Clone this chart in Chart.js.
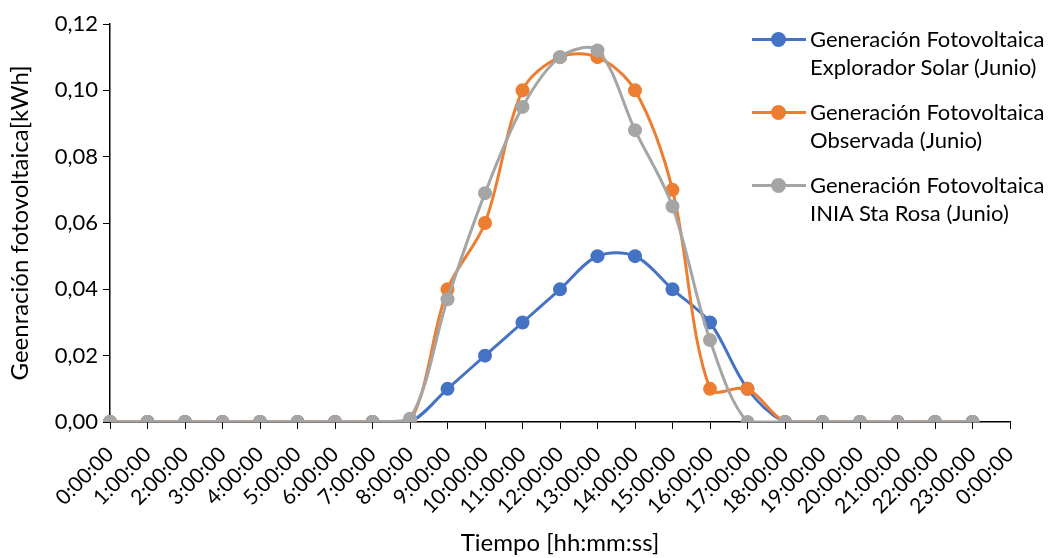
<!DOCTYPE html>
<html>
<head>
<meta charset="utf-8">
<script src="https://cdn.jsdelivr.net/npm/chart.js@4"></script>
<style>
  body { margin: 0; background: #fff; }
  #caja { position: relative; width: 1051px; height: 558px; }
  #leyenda { position: absolute; left: 752px; top: 25px; font-family: Lato, sans-serif; font-size: 22px; color: #000; line-height: 28px; }
  .item { display: flex; align-items: flex-start; margin-bottom: 17px; }
  .marca { position: relative; width: 54px; height: 28px; flex: none; margin-right: 4px; }
  .marca .linea { position: absolute; left: 0; right: 0; top: 13px; height: 3px; }
  .marca .punto { position: absolute; left: 19px; top: 7px; width: 15px; height: 15px; border-radius: 50%; }
</style>
</head>
<body>
<div id="caja">
  <canvas id="myChart" width="1051" height="558"></canvas>
  <div id="leyenda"></div>
</div>
<script>
// ---- DATOS ----
let horas = ['0:00:00','1:00:00','2:00:00','3:00:00','4:00:00','5:00:00','6:00:00','7:00:00','8:00:00','9:00:00','10:00:00','11:00:00','12:00:00','13:00:00','14:00:00','15:00:00','16:00:00','17:00:00','18:00:00','19:00:00','20:00:00','21:00:00','22:00:00','23:00:00','0:00:00']
let explorador = [0,0,0,0,0,0,0,0,0,0.01,0.02,0.03,0.04,0.05,0.05,0.04,0.03,0.01,0,0,0,0,0,0]
let observada = [0,0,0,0,0,0,0,0,0,0.04,0.06,0.10,0.11,0.11,0.10,0.07,0.01,0.01,0,0,0,0,0,0]
let iniaStaRosa = [0,0,0,0,0,0,0,0,0.001,0.037,0.069,0.095,0.110,0.112,0.088,0.065,0.0247,0,0,0,0,0,0,0]
let ticksY = [0,0.02,0.04,0.06,0.08,0.10,0.12]

let nombres = ['Generación Fotovoltaica\nExplorador Solar (Junio)', 'Generación Fotovoltaica\nObservada (Junio)', 'Generación Fotovoltaica\nINIA Sta Rosa (Junio)']
let colores = ['#4472C4', '#ED7D31', '#A5A5A5']

let fuente = 'Lato, sans-serif'

// ---- LEYENDA HTML ----
let leyenda = document.querySelector('#leyenda')
let html = ''
nombres.forEach((nombre, i) => {
    html += `
    <div class="item">
      <div class="marca"><div class="linea" style="background:${colores[i]}"></div><div class="punto" style="background:${colores[i]}"></div></div>
      <div>${nombre.replace('\n', '<br>')}</div>
    </div>`
})
leyenda.innerHTML = html

// ---- GRAFICO ----
function serie(nombre, data, color, orden) {
    return {
        label: nombre,
        data: data,
        borderColor: color,
        backgroundColor: color,
        borderWidth: 3,
        pointRadius: 7,
        pointHoverRadius: 7,
        pointBorderWidth: 0,
        tension: 0.33,
        order: orden
    }
}

let config = {
    type: 'line',
    data: {
        labels: horas,
        datasets: [
            serie(nombres[0], explorador, colores[0], 2),
            serie(nombres[1], observada, colores[1], 1),
            serie(nombres[2], iniaStaRosa, colores[2], 0)
        ]
    },
    options: {
        responsive: false,
        animation: false,
        layout: { padding: { top: 24, right: 41, left: 0, bottom: 0 } },
        plugins: { legend: { display: false }, tooltip: { enabled: false } },
        scales: {
            x: {
                offset: false,
                grid: { drawOnChartArea: false, color: '#000', tickLength: 7, tickColor: '#000' },
                border: { color: '#000', width: 1.5 },
                ticks: { color: '#000', font: { family: fuente, size: 21 }, minRotation: 45, maxRotation: 45, autoSkip: false, padding: 13 },
                title: { display: true, text: 'Tiempo [hh:mm:ss]', color: '#000', font: { family: fuente, size: 24 }, padding: { top: 0, bottom: 0 } },
                afterFit: (scale) => { scale.height = 136 }
            },
            y: {
                min: 0,
                max: 0.12,
                afterBuildTicks: (scale) => { scale.ticks = ticksY.map(v => ({ value: v })) },
                grid: { drawOnChartArea: false, color: '#000', tickLength: 7, tickColor: '#000' },
                border: { color: '#000', width: 1.5 },
                ticks: { color: '#000', font: { family: fuente, size: 22 }, padding: 5, callback: (v) => v.toFixed(2).replace('.', ',') },
                title: { display: true, text: 'Geenración fotovoltaica[kWh]', color: '#000', font: { family: fuente, size: 24 }, padding: { top: 6, bottom: 4 } },
                afterFit: (scale) => { scale.width = 110 }
            }
        }
    }
}

let grafico = new Chart(document.querySelector('#myChart'), config)
</script>
</body>
</html>
